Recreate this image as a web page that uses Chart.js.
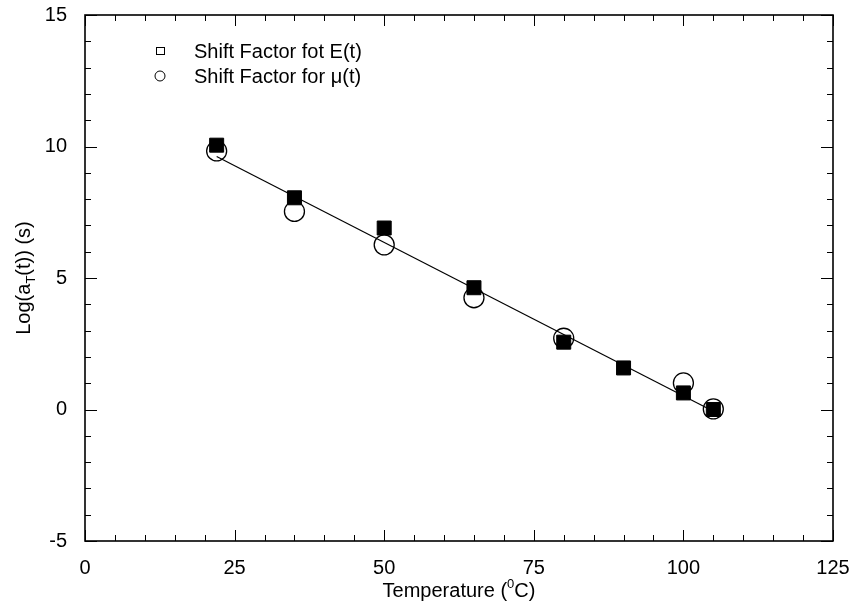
<!DOCTYPE html>
<html>
<head>
<meta charset="utf-8">
<script src="https://cdn.jsdelivr.net/npm/chart.js@4"></script>
<style>
  html, body { margin: 0; padding: 0; background: #fff; }
  #wrap { width: 853px; height: 608px; }
</style>
</head>
<body>
<div id="wrap"><canvas id="myChart" width="853" height="608"></canvas></div>
<script>
// temperatures (C)
var tempE = [22, 35, 50, 65, 80, 90, 100, 105];
var shiftE = [10.05, 8.05, 6.9, 4.63, 2.56, 1.58, 0.63, 0.0];

var tempMu = [22, 35, 50, 65, 80, 100, 105];
var shiftMu = [9.83, 7.53, 6.26, 4.25, 2.71, 1.01, 0.02];

// fitted line end points
var fitTemp = [22, 105];
var fitShift = [9.62, -0.07];

var xTicks = [0, 25, 50, 75, 100, 125];
var yTicks = [-5, 0, 5, 10, 15];

var legendLabels = ["Shift Factor fot E(t)", "Shift Factor for \u03bc(t)"];

var FONT = "Liberation Sans, Arial, Helvetica, sans-serif";

function toPoints(xs, ys) {
    var pts = [];
    for (var i = 0; i < xs.length; i++) {
        pts.push({x: xs[i], y: ys[i]});
    }
    return pts;
}

// inward ticks on all four sides + frame
var frameTicks = {
    id: 'frameTicks',
    afterDatasetsDraw: function(chart) {
        var ctx = chart.ctx;
        var a = chart.chartArea;
        var xs = chart.scales.x, ys = chart.scales.y;
        ctx.save();
        ctx.strokeStyle = '#000';
        ctx.lineWidth = 1;
        ctx.beginPath();
        for (var v = 0; v <= 125; v += 5) {
            var px = Math.round(xs.getPixelForValue(v)) + 0.5;
            var len = (v % 25 === 0) ? 11 : 6;
            ctx.moveTo(px, a.bottom); ctx.lineTo(px, a.bottom - len);
            ctx.moveTo(px, a.top); ctx.lineTo(px, a.top + len);
        }
        for (var w = -5; w <= 15; w += 1) {
            var py = Math.round(ys.getPixelForValue(w)) + 0.5;
            var len2 = (w % 5 === 0) ? 12 : 6;
            ctx.moveTo(a.left, py); ctx.lineTo(a.left + len2, py);
            ctx.moveTo(a.right, py); ctx.lineTo(a.right - len2, py);
        }
        ctx.stroke();
        ctx.lineWidth = 1.6;
        ctx.strokeRect(a.left, a.top, a.right - a.left, a.bottom - a.top);

        // legend
        ctx.lineWidth = 1;
        ctx.strokeRect(156.5, 47.5, 8, 7);
        ctx.beginPath();
        ctx.arc(160, 76, 5, 0, Math.PI * 2);
        ctx.stroke();
        ctx.fillStyle = '#000';
        ctx.font = '20px ' + FONT;
        ctx.textBaseline = 'middle';
        ctx.textAlign = 'left';
        ctx.fillText(legendLabels[0], 194, 52);
        ctx.fillText(legendLabels[1], 194, 77);

        // x title with superscript
        var big = '20px ' + FONT, small = '13px ' + FONT;
        ctx.font = big;
        var p1 = "Temperature (", p3 = "C)";
        var w1 = ctx.measureText(p1).width, w3 = ctx.measureText(p3).width;
        ctx.font = small;
        var w2 = ctx.measureText("0").width;
        var total = w1 + w2 + w3;
        var cx = (a.left + a.right) / 2;
        var sx = cx - total / 2;
        var by = 597;
        ctx.textBaseline = 'alphabetic';
        ctx.font = big;
        ctx.fillText(p1, sx, by);
        ctx.font = small;
        ctx.fillText("0", sx + w1, by - 9);
        ctx.font = big;
        ctx.fillText(p3, sx + w1 + w2, by);

        // y title with subscript, rotated
        ctx.save();
        ctx.translate(30, (a.top + a.bottom) / 2);
        ctx.rotate(-Math.PI / 2);
        var q1 = "Log(a", q2 = "T", q3 = "(t)) (s)";
        ctx.font = big;
        var v1 = ctx.measureText(q1).width, v3 = ctx.measureText(q3).width;
        ctx.font = small;
        var v2 = ctx.measureText(q2).width;
        var tx = -(v1 + v2 + v3) / 2;
        ctx.font = big;
        ctx.fillText(q1, tx, 0);
        ctx.font = small;
        ctx.fillText(q2, tx + v1, 5);
        ctx.font = big;
        ctx.fillText(q3, tx + v1 + v2, 0);
        ctx.restore();

        ctx.restore();
    }
};

window.onload = function() {
    var ctx = document.getElementById('myChart');
    var myChart = new Chart(ctx, {
        type: 'scatter',
        data: {
            datasets: [{
                label: legendLabels[0],
                data: toPoints(tempE, shiftE),
                pointStyle: 'rect',
                pointRadius: 9.9,
                backgroundColor: '#000',
                borderColor: '#000',
                borderWidth: 1
            }, {
                label: legendLabels[1],
                data: toPoints(tempMu, shiftMu),
                pointStyle: 'circle',
                pointRadius: 10,
                backgroundColor: 'rgba(0,0,0,0)',
                borderColor: '#000',
                borderWidth: 1.3
            }, {
                type: 'line',
                label: 'fit',
                data: toPoints(fitTemp, fitShift),
                borderColor: '#000',
                borderWidth: 1.2,
                pointRadius: 0,
                fill: false
            }]
        },
        plugins: [frameTicks],
        options: {
            responsive: false,
            animation: false,
            events: [],
            layout: { padding: { top: 15, right: 20, left: 0, bottom: 0 } },
            plugins: {
                legend: { display: false },
                tooltip: { enabled: false }
            },
            scales: {
                x: {
                    type: 'linear',
                    min: 0,
                    max: 125,
                    afterFit: function(s) {
                        s.height = 67;
                        s.paddingLeft = 0;
                        s.paddingRight = 0;
                    },
                    afterBuildTicks: function(s) {
                        s.ticks = xTicks.map(function(v) { return {value: v}; });
                    },
                    grid: { display: false },
                    border: { display: false },
                    ticks: { color: '#000', padding: 7, font: { family: FONT, size: 20 } }
                },
                y: {
                    type: 'linear',
                    min: -5,
                    max: 15,
                    afterFit: function(s) {
                        s.width = 85;
                        s.paddingTop = 0;
                        s.paddingBottom = 0;
                    },
                    afterBuildTicks: function(s) {
                        s.ticks = yTicks.map(function(v) { return {value: v}; });
                    },
                    grid: { display: false },
                    border: { display: false },
                    ticks: { color: '#000', padding: 10, font: { family: FONT, size: 20 } }
                }
            }
        }
    });
};
</script>
</body>
</html>
